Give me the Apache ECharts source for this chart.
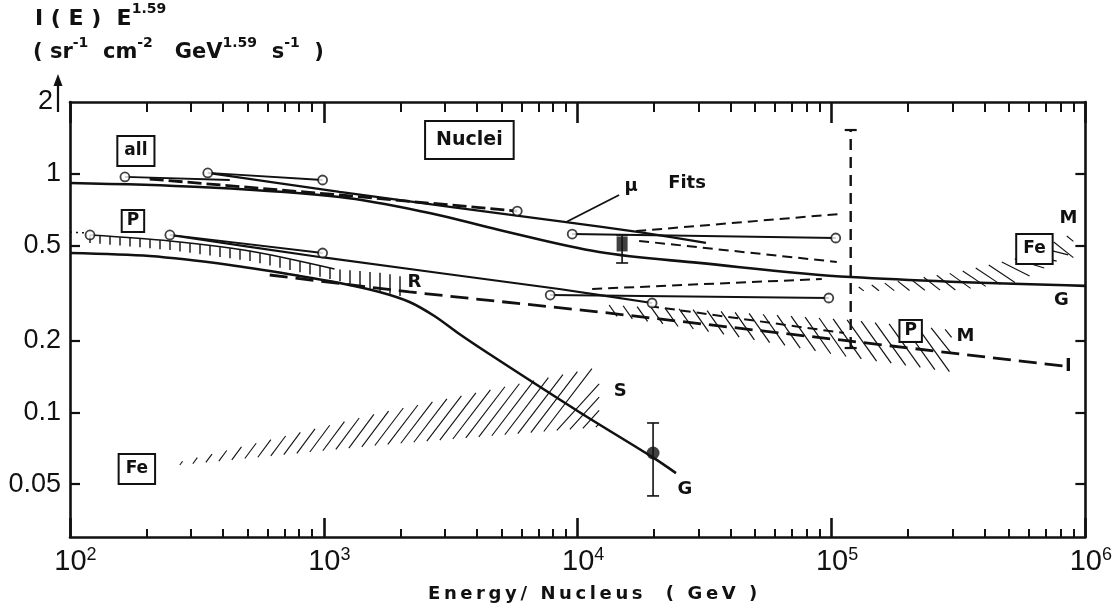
<!DOCTYPE html>
<html><head><meta charset="utf-8">
<script src="https://cdn.jsdelivr.net/npm/echarts@6/dist/echarts.min.js"></script>
<style>html,body{margin:0;padding:0;background:#fff}#c{width:1115px;height:611px}</style>
</head><body><div id="c"></div>
<script>
// ---------- data (energy per nucleus in GeV, I(E)E^1.59) ----------
const xMajorTicks = [1e2, 1e3, 1e4, 1e5, 1e6];
const xMinorTicks = [200,300,400,500,600,700,800,900,2000,3000,4000,5000,6000,7000,8000,9000,
  20000,30000,40000,50000,60000,70000,80000,90000,200000,300000,400000,500000,600000,700000,800000,900000];
const yTickValues = [0.05, 0.1, 0.2, 0.5, 1];
const yLabelValues = [0.05, 0.1, 0.2, 0.5, 1, 2];

// all nuclei
const allTotalG = [[100,0.915],[325,0.880],[1153,0.799],[2606,0.685],[4912,0.581],[12150,0.470],[30063,0.423],[119000,0.369],[1000000,0.339]];
const allMuFit = [[349,1.008],[1153,0.839],[8850,0.628],[17461,0.570],[32020,0.513]];
const allData1 = [[164.6,0.970],[426,0.942]];
const allData2 = [[348.9,1.008],[988.8,0.942]];
const allDashed = [[206,0.951],[1153,0.815],[5781,0.698]];
const allData3 = [[9515,0.559],[103900,0.538]];
const allFitUpper = [[17000,0.575],[106800,0.678]];
const allFitLower = [[17461,0.523],[104900,0.427]];

// protons / iron
const pTotalG = [[100,0.4655],[206,0.452],[426,0.4146],[803,0.373],[1153,0.3485],[1657,0.3195],[2175,0.2901],[2726,0.2533],
  [3420,0.2129],[4486,0.1755],[10137,0.1003],[19634,0.0650],[24399,0.0556]];
const pBandTop = [[119.9,0.554],[247.4,0.523],[510,0.4745],[1102,0.3989]];
const pData2 = [[247.4,0.554],[988.8,0.4655]];
const pLong = [[247.4,0.554],[962,0.448],[8456,0.3289],[19634,0.2872]];
const pData3 = [[7795,0.3102],[97540,0.3014]];
const pFitUpper = [[11403,0.3289],[91560,0.3622]];
const pFitLower = [[19105,0.279],[112000,0.215]];
const lineI = [[612,0.3764],[2175,0.3195],[12150,0.2634],[116900,0.1991],[819400,0.1563]];
const pDotted = [[100,0.570],[114.6,0.565]];

const openCircles = [[164.6,0.970],[348.9,1.008],[988.8,0.942],[5781,0.698],[9515,0.559],[103900,0.538],
  [119.9,0.554],[247.4,0.554],[988.8,0.4655],[19634,0.2872],[7795,0.3102],[97540,0.3014]];
const filledDot = [[19815,0.0675]];
const filledSquare = [[14962,0.508]];
// [x, low, high]
const errorBars = [[19815,0.0446,0.0902],[14962,0.4227,0.554]];
const dashedErrorBar = [[119000,0.186,1.526]];

// hatched bands: upper and lower edges
const pBandUpper = [[119.9,0.554],[247.4,0.5227],[510,0.4745],[1102,0.3989],[1702,0.3838],[2078,0.3692]];
const pBandLower = [[119.9,0.5127],[247.4,0.4792],[510,0.4310],[1102,0.3587],[1702,0.3195],[2078,0.3043]];
const feLeftUpper = [[270.8,0.0619],[1657,0.0993],[12150,0.1548]];
const feLeftLower = [[270.8,0.0601],[1657,0.0729],[12150,0.0868]];
const pmUpper = [[13300,0.2818],[30063,0.2685],[116900,0.2438],[297200,0.2214]];
const pmLower = [[13300,0.2559],[30063,0.2214],[116900,0.1706],[297200,0.1475]];
const feRightUpper = [[128000,0.3353],[316700,0.3875],[545000,0.4436],[897300,0.5646]];
const feRightLower = [[128000,0.3226],[316700,0.3258],[545000,0.3519],[897300,0.4700]];

// annotations
const annotTexts = ['all','Nuclei','μ','Fits','P','R','S','Fe','G','M','Fe','G','P','M','I'];
const annotCoords = [[181.8,1.246],[3744,1.386],[16235,0.889],[26960,0.915],[177,0.634],[2275,0.3519],[14700,0.1229],
  [183.4,0.0578],[26470,0.0477],[857600,0.653],[630000,0.4838],[804700,0.2957],[205000,0.2193],[337300,0.2089],[857600,0.1563]];
const boxedIdx = [0,1,4,7,10,12];
const muArrow = [[14560,0.815],[9012,0.628]];

// ---------- rendering ----------
const INK = '#111';
const chart = echarts.init(document.getElementById('c'));
const axisFont = 'Liberation Sans';
const boldFont = 'DejaVu Sans';

function interp(P, x){
  for (let i=0;i<P.length-1;i++){
    if (x <= P[i+1][0]) { const t=(x-P[i][0])/(P[i+1][0]-P[i][0]); return P[i][1]+t*(P[i+1][1]-P[i][1]); }
  }
  return P[P.length-1][1];
}
function hatchSeries(upper, lower, dir, slope, step, width){
  return {
    type:'custom', silent:true, z:1, clip:true,
    data:[upper[0]],
    renderItem(params, api){
      const U = upper.map(p=>api.coord(p)), L = lower.map(p=>api.coord(p));
      const x0 = Math.max(U[0][0], L[0][0]), x1 = Math.min(U[U.length-1][0], L[L.length-1][0]);
      const kids = [];
      for (let x=x0; x<=x1+0.1; x+=step){
        const yu = interp(U,x), yl = interp(L,x), h = Math.abs(yl-yu);
        let s;
        if (dir==='|') s = {x1:x,y1:yu,x2:x,y2:yl};
        else {
          let xe = x + h/slope, ye;
          if (dir==='/') { ye = interp(U,xe); if (xe > x1) { xe = x1; ye = yl - (x1-x)*slope; } s={x1:x,y1:yl,x2:xe,y2:ye}; }
          else { ye = interp(L,xe); if (xe > x1) { xe = x1; ye = yu + (x1-x)*slope; } s={x1:x,y1:yu,x2:xe,y2:ye}; }
        }
        kids.push({type:'line', shape:s, style:{stroke:INK, lineWidth:width}});
      }
      return {type:'group', children:kids};
    }
  };
}
function errSeries(data, dashed, cap){
  return {
    type:'custom', z:4, data:data, encode:{x:0,y:[1,2]}, silent:true,
    renderItem(params, api){
      const x=api.value(0), lo=api.coord([x,api.value(1)]), hi=api.coord([x,api.value(2)]);
      const st={stroke:INK, lineWidth:dashed?2.4:1.6, lineDash:dashed?[11,7]:null};
      const cs={stroke:INK, lineWidth:dashed?2.2:1.6};
      return {type:'group', children:[
        {type:'line', shape:{x1:lo[0],y1:lo[1],x2:hi[0],y2:hi[1]}, style:st},
        {type:'line', shape:{x1:lo[0]-cap,y1:lo[1],x2:lo[0]+cap,y2:lo[1]}, style:cs},
        {type:'line', shape:{x1:hi[0]-cap,y1:hi[1],x2:hi[0]+cap,y2:hi[1]}, style:cs}
      ]};
    }
  };
}
function line(data, w, type, smooth, z){
  return {type:'line', data:data, symbol:'none', smooth:smooth||false, z:z||3, silent:true,
    lineStyle:{color:INK, width:w, type:type||'solid', cap:'butt'}};
}
const annotData = annotTexts.map((t,i)=>[annotCoords[i][0], annotCoords[i][1], i]);
const annotSeries = {
  type:'custom', z:8, silent:true, data:annotData, encode:{x:0,y:1},
  renderItem(params, api){
    const i = api.value(2), t = annotTexts[i], p = api.coord([api.value(0), api.value(1)]);
    const boxed = boxedIdx.indexOf(i) >= 0;
    const fs = t==='Nuclei' ? 19 : (boxed ? 17 : 18);
    const pad = !boxed ? 0 : (t==='Nuclei' ? [9,10,8,10] : (t==='P' ? [2,4,1,4] : [6,6,5,6]));
    return {type:'text', x:p[0], y:p[1], style:{
      text:t, fill:INK, fontFamily:boldFont, fontWeight:'bold', fontSize:fs,
      align:'center', verticalAlign:'middle',
      backgroundColor: boxed ? '#fff' : null, borderColor: boxed ? INK : null,
      borderWidth: boxed ? 2 : 0, padding: pad}};
  }
};
function spaced(str){ return str.split('').map(c=>'{c|'+c+'}').join(''); }

const option = {
  animation:false,
  backgroundColor:'#fff',
  grid:{left:70, right:28, top:102, bottom:74},
  xAxis:[
    {type:'log', logBase:10, min:100, max:1e6, position:'bottom',
      axisLine:{onZero:false, lineStyle:{color:INK, width:2.6}},
      axisTick:{inside:true, length:19, customValues:xMajorTicks, lineStyle:{color:INK, width:2.6}},
      axisLabel:{customValues:xMajorTicks, margin:9, color:INK,
        formatter:v=>'{b|10}{s|'+Math.round(Math.log10(v))+'}',
        rich:{b:{fontFamily:axisFont, fontSize:29, color:INK, lineHeight:32, padding:[0,0,0,11]},
              s:{fontFamily:axisFont, fontSize:18, color:INK, verticalAlign:'top', lineHeight:18}}},
      splitLine:{show:false}},
    {type:'log', logBase:10, min:100, max:1e6, position:'bottom',
      axisLine:{show:false, onZero:false},
      axisTick:{inside:true, length:8, customValues:xMinorTicks, lineStyle:{color:INK, width:2}},
      axisLabel:{show:false}, splitLine:{show:false}},
    {type:'log', logBase:10, min:100, max:1e6, position:'top',
      axisLine:{onZero:false, lineStyle:{color:INK, width:2.6}},
      axisTick:{inside:true, length:21, customValues:xMajorTicks, lineStyle:{color:INK, width:2.6}},
      axisLabel:{show:false}, splitLine:{show:false}},
    {type:'log', logBase:10, min:100, max:1e6, position:'top',
      axisLine:{show:false, onZero:false},
      axisTick:{inside:true, length:10, customValues:xMinorTicks, lineStyle:{color:INK, width:2}},
      axisLabel:{show:false}, splitLine:{show:false}}
  ],
  yAxis:[
    {type:'log', logBase:10, min:0.03, max:2, position:'left',
      axisLine:{onZero:false, lineStyle:{color:INK, width:2.6}},
      axisTick:{inside:true, length:10, customValues:yTickValues, lineStyle:{color:INK, width:2.2}},
      axisLabel:{customValues:yLabelValues, margin:9, color:INK, fontFamily:axisFont, fontSize:27,
        formatter:v=>{const r=+(+v).toPrecision(2); return r===2?'{two|2}':String(r);},
        rich:{two:{fontFamily:axisFont, fontSize:27, color:INK, padding:[0,8,0,0]}}},
      splitLine:{show:false}},
    {type:'log', logBase:10, min:0.03, max:2, position:'right',
      axisLine:{onZero:false, lineStyle:{color:INK, width:2.6}},
      axisTick:{inside:true, length:10, customValues:yTickValues, lineStyle:{color:INK, width:2.2}},
      axisLabel:{show:false}, splitLine:{show:false}}
  ],
  series:[
    hatchSeries(pBandUpper, pBandLower, '|', 1, 10, 1.4),
    hatchSeries(feLeftUpper, feLeftLower, '/', 1.1, 13, 1.1),
    hatchSeries(pmUpper, pmLower, '\\', 1.25, 14, 1.2),
    hatchSeries(feRightUpper, feRightLower, '\\', 0.8, 13, 1.1),
    line(allTotalG, 2.6, 'solid', 0.35),
    line(allMuFit, 2.3, 'solid', 0.2),
    line(allData1, 1.8),
    line(allData2, 1.8),
    line(allDashed, 2.8, [14,5]),
    line(allData3, 2),
    line(allFitUpper, 2, [10,6]),
    line(allFitLower, 2, [10,6]),
    line(pTotalG, 2.6, 'solid', 0.3),
    line(pBandTop, 1.6, 'solid', 0.3),
    line(pData2, 1.8),
    line(pLong, 2.2, 'solid', 0.2),
    line(pData3, 2),
    line(pFitUpper, 2, [10,6]),
    line(pFitLower, 2, [10,6]),
    line(lineI, 2.8, [18,8]),
    line(pDotted, 1.5, [2,4]),
    errSeries(errorBars, false, 6),
    errSeries(dashedErrorBar, true, 6),
    {type:'scatter', data:openCircles, symbol:'circle', symbolSize:9, z:6, silent:true,
      itemStyle:{color:'#fff', borderColor:INK, borderWidth:1.8}},
    {type:'scatter', data:filledDot, symbol:'circle', symbolSize:13, z:6, silent:true, itemStyle:{color:INK}},
    {type:'scatter', data:filledSquare, symbol:'rect', symbolSize:[11,15], z:6, silent:true, itemStyle:{color:INK}},
    annotSeries,
    {type:'line', data:muArrow, symbol:'none', silent:true, z:5, lineStyle:{width:0, opacity:0},
      markLine:{silent:true, symbol:['none','arrow'], symbolSize:[0,11], animation:false,
        lineStyle:{type:'solid', color:INK, width:1.8}, label:{show:false},
        data:[[{coord:muArrow[0]},{coord:muArrow[1]}]]}}
  ],
  graphic:[
    {type:'text', left:35, top:2, silent:true, style:{
      text:'{m|I ( E )  E}{s|1.59}', rich:{
        m:{fontFamily:boldFont, fontWeight:'bold', fontSize:22, fill:INK, lineHeight:34},
        s:{fontFamily:boldFont, fontWeight:'bold', fontSize:14, fill:INK, verticalAlign:'top', lineHeight:20}}}},
    {type:'text', left:33, top:36, silent:true, style:{
      text:'{m|( sr}{s|-1}{m|  cm}{s|-2}{m|   GeV}{s|1.59}{m|  s}{s|-1}{m|  )}', rich:{
        m:{fontFamily:boldFont, fontWeight:'bold', fontSize:21, fill:INK, lineHeight:34},
        s:{fontFamily:boldFont, fontWeight:'bold', fontSize:14, fill:INK, verticalAlign:'top', lineHeight:20}}}},
    {type:'line', silent:true, shape:{x1:58, y1:112, x2:58, y2:80}, style:{stroke:INK, lineWidth:2.2}},
    {type:'polygon', silent:true, shape:{points:[[53.5,86],[58,74],[62.5,86]]}, style:{fill:INK}},
    {type:'text', left:428, top:585, silent:true, style:{
      text: spaced('Energy/ Nucleus  ( GeV )'),
      rich:{c:{fontFamily:boldFont, fontWeight:'bold', fontSize:18, fill:INK, padding:[0,1.8,0,1.8]}}}}
  ]
};
chart.setOption(option);
</script>
</body></html>
